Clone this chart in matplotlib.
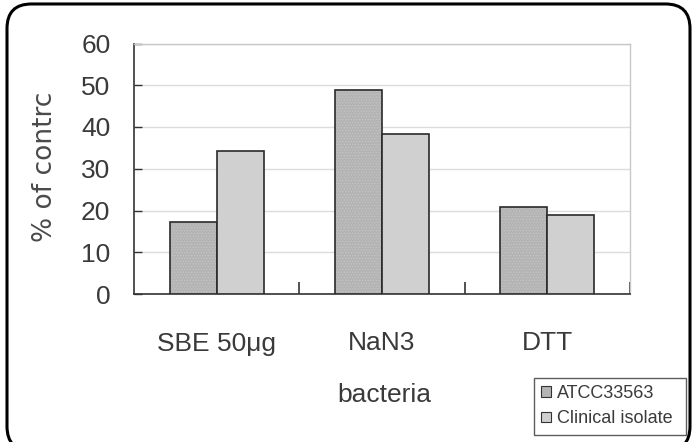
"""Grouped bar chart: % of control for two bacterial strains."""

import matplotlib
matplotlib.use("Agg")
from matplotlib import pyplot as plt
from matplotlib.patches import FancyBboxPatch, Patch
import numpy as np

plt.rcParams["font.family"] = ["Liberation Sans", "DejaVu Sans"]
plt.rcParams["hatch.linewidth"] = 0.4

categories = ["SBE 50μg", "NaN3", "DTT"]
series_names = ["ATCC33563", "Clinical isolate"]
atcc = [17.3, 48.9, 20.8]
clinical = [34.2, 38.4, 19.0]

TEXT = "#3a3a3a"
ATCC_COLOR = "#b4b4b4"
CLIN_COLOR = "#d0d0d0"
FS = 19

fig = plt.figure(figsize=(6.99, 4.42), dpi=100)

# rounded outer frame, bottom edge falls just outside the picture
frame = FancyBboxPatch((7 / 699, -0.02), 683 / 699, 1.011,
                       boxstyle="round,pad=0,rounding_size=0.035",
                       transform=fig.transFigure, fill=False,
                       edgecolor="black", linewidth=2.2, mutation_aspect=699 / 442)
fig.patches.append(frame)

ax = fig.add_axes([134 / 699, 1 - 294 / 442, 496 / 699, 250.5 / 442])

x = np.arange(len(categories))
w = 0.285
ax.bar(x - w / 2, atcc, w, color=ATCC_COLOR, edgecolor="#2a2a2a",
       linewidth=1.2, hatch="......", zorder=3)
ax.bar(x + w / 2, clinical, w, color=CLIN_COLOR, edgecolor="#2a2a2a",
       linewidth=1.2, zorder=3)
for p in ax.patches[:3]:
    p._hatch_color = matplotlib.colors.to_rgba("#c8c8c8")

ax.set_xlim(-0.5, 2.5)
ax.set_ylim(0, 60)
ax.set_yticks(range(0, 61, 10))
ax.yaxis.grid(True, color="#dcdcdc", linewidth=1.0, zorder=0)
ax.set_axisbelow(True)

ax.set_xticks([0.5, 1.5, 2.5])
ax.set_xticklabels([])
ax.set_xticks(x, minor=True)
ax.set_xticklabels(categories, minor=True)
ax.tick_params(axis="x", which="major", direction="in", length=9, width=1.2, color="#333333")
ax.tick_params(axis="x", which="minor", length=0, pad=27, labelsize=FS, labelcolor=TEXT)
ax.tick_params(axis="y", direction="in", length=6, width=1.0, labelsize=FS,
               labelcolor=TEXT, pad=17, color="#333333")

for side in ["top", "right"]:
    ax.spines[side].set_color("#c8c8c8")
    ax.spines[side].set_linewidth(1.0)
for side in ["left", "bottom"]:
    ax.spines[side].set_color("#333333")
    ax.spines[side].set_linewidth(1.2)

fig.text(45 / 699, 1 - 166.5 / 442, "% of contrc", rotation=90, ha="center",
         va="center", fontsize=FS, color="#4a4a4a", family=["DejaVu Sans"])
fig.text(384 / 699, 1 - 395 / 442, "bacteria", ha="center", va="center",
         fontsize=FS, color=TEXT)

handles = [Patch(facecolor=ATCC_COLOR, edgecolor="#333333", linewidth=0.8),
           Patch(facecolor=CLIN_COLOR, edgecolor="#333333", linewidth=0.8)]
leg = fig.legend(handles, series_names, loc="upper left", mode="expand",
                 bbox_to_anchor=(534 / 699, 1 - 433 / 442, 152 / 699, 55 / 442),
                 fontsize=13, frameon=True, fancybox=False,
                 handlelength=0.55, handleheight=0.55, handletextpad=0.3,
                 borderpad=0.4, labelspacing=0.45, borderaxespad=0)
leg.get_frame().set_edgecolor("#333333")
leg.get_frame().set_linewidth(1.0)
for t in leg.get_texts():
    t.set_color(TEXT)

fig.savefig("out.png", dpi=100)
